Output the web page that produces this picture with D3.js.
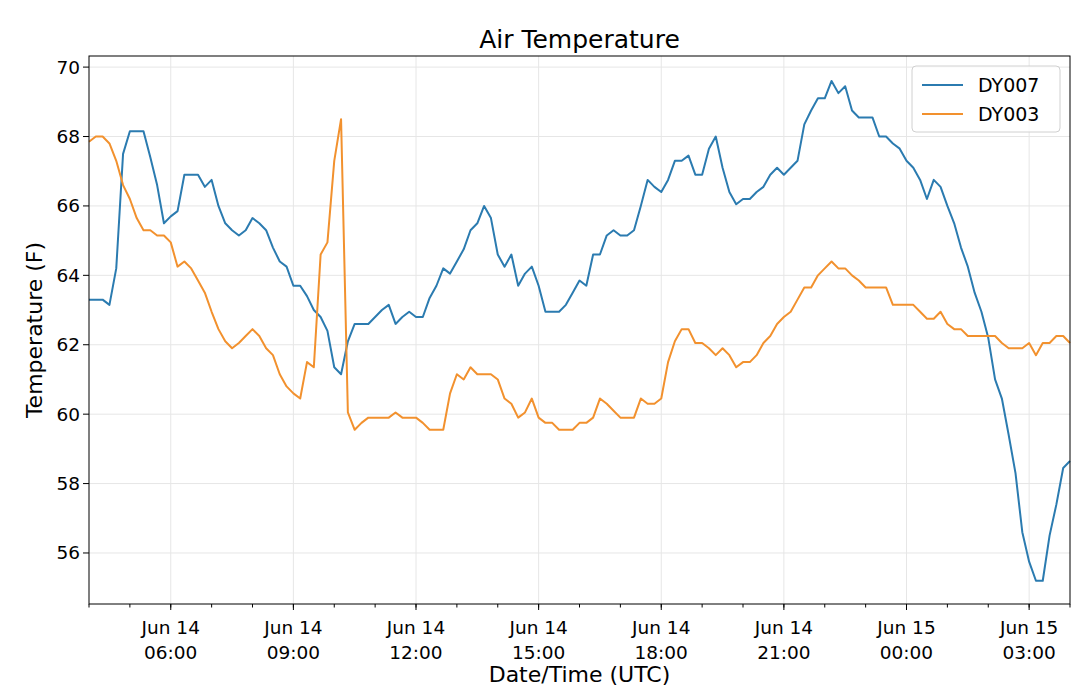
<!DOCTYPE html>
<html>
<head>
<meta charset="utf-8">
<script src="https://cdn.jsdelivr.net/npm/d3@7"></script>
<style>
  body { margin: 0; background: #fff; }
  text { font-family: "DejaVu Sans", sans-serif; fill: #000; }
</style>
</head>
<body>
<div id="chart"></div>
<script>
// readings every 10 minutes, Jun 14 04:00 -> Jun 15 04:00 UTC
const startTime = new Date(Date.UTC(2019, 5, 14, 4, 0));
const stepMinutes = 10;
const dy007 = [63.3,63.3,63.3,63.15,64.2,67.5,68.15,68.15,68.15,67.4,66.6,65.5,65.7,65.85,66.9,66.9,66.9,66.55,66.75,66.0,
  65.5,65.3,65.15,65.3,65.65,65.5,65.3,64.8,64.4,64.25,63.7,63.7,63.4,63.0,62.8,62.4,61.35,61.15,62.1,62.6,
  62.6,62.6,62.8,63.0,63.15,62.6,62.8,62.95,62.8,62.8,63.35,63.7,64.2,64.05,64.4,64.75,65.3,65.5,66.0,65.65,
  64.6,64.25,64.6,63.7,64.05,64.25,63.7,62.95,62.95,62.95,63.15,63.5,63.85,63.7,64.6,64.6,65.15,65.3,65.15,65.15,
  65.3,66.0,66.75,66.55,66.4,66.75,67.3,67.3,67.45,66.9,66.9,67.65,68.0,67.1,66.4,66.05,66.2,66.2,66.4,66.55,
  66.9,67.1,66.9,67.1,67.3,68.35,68.75,69.1,69.1,69.6,69.25,69.45,68.75,68.55,68.55,68.55,68.0,68.0,67.8,67.65,
  67.3,67.1,66.75,66.2,66.75,66.55,66.0,65.5,64.8,64.25,63.5,62.95,62.2,61.0,60.45,59.4,58.3,56.6,55.75,55.2,
  55.2,56.5,57.4,58.45,58.65];
const dy003 = [67.85,68.0,68.0,67.8,67.3,66.6,66.2,65.65,65.3,65.3,65.15,65.15,64.95,64.25,64.4,64.2,63.85,63.5,62.95,62.45,
  62.1,61.9,62.05,62.25,62.45,62.25,61.9,61.7,61.15,60.8,60.6,60.45,61.5,61.35,64.6,64.95,67.3,68.5,60.05,59.55,
  59.75,59.9,59.9,59.9,59.9,60.05,59.9,59.9,59.9,59.75,59.55,59.55,59.55,60.6,61.15,61.0,61.35,61.15,61.15,61.15,
  61.0,60.45,60.3,59.9,60.05,60.45,59.9,59.75,59.75,59.55,59.55,59.55,59.75,59.75,59.9,60.45,60.3,60.1,59.9,59.9,
  59.9,60.45,60.3,60.3,60.45,61.5,62.1,62.45,62.45,62.05,62.05,61.9,61.7,61.9,61.7,61.35,61.5,61.5,61.7,62.05,
  62.25,62.6,62.8,62.95,63.3,63.65,63.65,64.0,64.2,64.4,64.2,64.2,64.0,63.85,63.65,63.65,63.65,63.65,63.15,63.15,
  63.15,63.15,62.95,62.75,62.75,62.95,62.6,62.45,62.45,62.25,62.25,62.25,62.25,62.25,62.05,61.9,61.9,61.9,62.05,61.7,
  62.05,62.05,62.25,62.25,62.05];
const seriesNames = ["DY007", "DY003"];
const seriesColors = ["#2b7bb0", "#f2912e"];
const yTicks = [56, 58, 60, 62, 64, 66, 68, 70];

const width = 1080, height = 691;
const margin = {top: 56, right: 10, bottom: 87, left: 89};
const svg = d3.select("#chart").append("svg").attr("width", width).attr("height", height);

const timeAt = i => new Date(startTime.getTime() + i * stepMinutes * 60000);
const x = d3.scaleUtc()
  .domain([startTime, timeAt(dy007.length - 1)])
  .range([margin.left, width - margin.right]);
const y = d3.scaleLinear().domain([54.53, 70.32]).range([height - margin.bottom, margin.top]);

const majorTicks = d3.utcHour.every(3).range(x.domain()[0], x.domain()[1]).filter(d => d > x.domain()[0]);
const minorTicks = d3.utcHour.range(x.domain()[0], d3.utcHour.offset(x.domain()[1], 1));

// grid
svg.append("g").selectAll("line").data(majorTicks).enter().append("line")
  .attr("x1", d => x(d)).attr("x2", d => x(d))
  .attr("y1", margin.top).attr("y2", height - margin.bottom)
  .attr("stroke", "#e6e6e6").attr("stroke-width", 1);
svg.append("g").selectAll("line").data(yTicks).enter().append("line")
  .attr("x1", margin.left).attr("x2", width - margin.right)
  .attr("y1", d => y(d)).attr("y2", d => y(d))
  .attr("stroke", "#e6e6e6").attr("stroke-width", 1);

// lines
const line = d3.line().x((d, i) => x(timeAt(i))).y(d => y(d));
[dy007, dy003].forEach((s, k) => {
  svg.append("path").datum(s)
    .attr("fill", "none").attr("stroke", seriesColors[k])
    .attr("stroke-width", 2).attr("stroke-linejoin", "round")
    .attr("d", line);
});

// frame
svg.append("rect").attr("x", margin.left).attr("y", margin.top)
  .attr("width", width - margin.left - margin.right).attr("height", height - margin.top - margin.bottom)
  .attr("fill", "none").attr("stroke", "#000").attr("stroke-width", 1);

// x axis
const xAxis = svg.append("g").attr("transform", `translate(0,${height - margin.bottom})`);
xAxis.selectAll(".minor").data(minorTicks).enter().append("line")
  .attr("x1", d => x(d)).attr("x2", d => x(d)).attr("y1", 0).attr("y2", 3.5).attr("stroke", "#000");
xAxis.selectAll(".major").data(majorTicks).enter().append("line")
  .attr("x1", d => x(d)).attr("x2", d => x(d)).attr("y1", 0).attr("y2", 6).attr("stroke", "#000");
const fmtDay = d3.utcFormat("%b %d"), fmtHour = d3.utcFormat("%H:%M");
const lbl = xAxis.selectAll(".lbl").data(majorTicks).enter().append("text")
  .attr("text-anchor", "middle").attr("font-size", 18.5);
lbl.append("tspan").attr("x", d => x(d)).attr("y", 30).text(d => fmtDay(d));
lbl.append("tspan").attr("x", d => x(d)).attr("y", 55).text(d => fmtHour(d));

// y axis
const yAxis = svg.append("g");
yAxis.selectAll("line").data(yTicks).enter().append("line")
  .attr("x1", margin.left - 6).attr("x2", margin.left).attr("y1", d => y(d)).attr("y2", d => y(d)).attr("stroke", "#000");
yAxis.selectAll("text").data(yTicks).enter().append("text")
  .attr("x", margin.left - 9).attr("y", d => y(d)).attr("dy", "0.35em")
  .attr("text-anchor", "end").attr("font-size", 18.5).text(d => d);

// titles
svg.append("text").attr("x", (margin.left + width - margin.right) / 2).attr("y", 48)
  .attr("text-anchor", "middle").attr("font-size", 25).text("Air Temperature");
svg.append("text").attr("x", (margin.left + width - margin.right) / 2).attr("y", 682)
  .attr("text-anchor", "middle").attr("font-size", 22).text("Date/Time (UTC)");
svg.append("text").attr("transform", `translate(42,${(margin.top + height - margin.bottom) / 2}) rotate(-90)`)
  .attr("text-anchor", "middle").attr("font-size", 22).text("Temperature (F)");

// legend
const lg = svg.append("g").attr("transform", "translate(912,66)");
lg.append("rect").attr("width", 148).attr("height", 66).attr("rx", 4)
  .attr("fill", "#fff").attr("fill-opacity", 0.8).attr("stroke", "#d0d0d0");
seriesNames.forEach((n, k) => {
  lg.append("line").attr("x1", 10).attr("x2", 51).attr("y1", 19 + k * 29).attr("y2", 19 + k * 29)
    .attr("stroke", seriesColors[k]).attr("stroke-width", 2);
  lg.append("text").attr("x", 66).attr("y", 19 + k * 29).attr("dy", "0.35em")
    .attr("font-size", 19).text(n);
});
</script>
</body>
</html>
